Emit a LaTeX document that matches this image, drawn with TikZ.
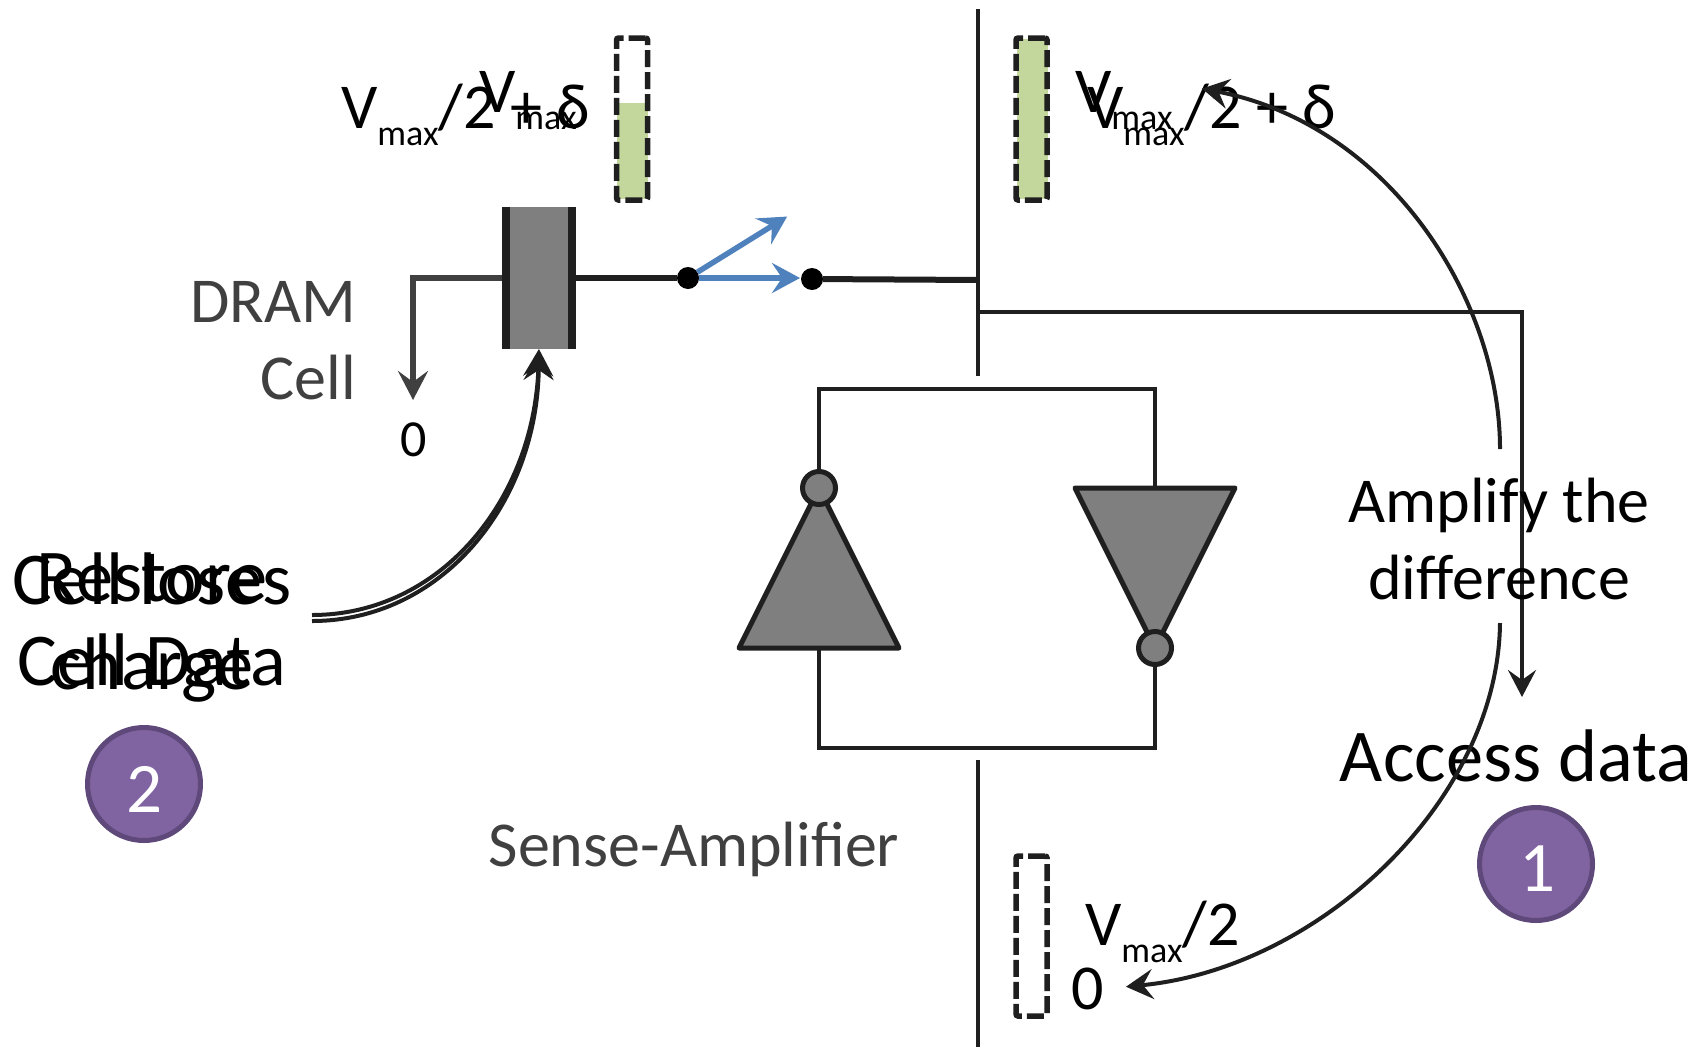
\documentclass[tikz,border=0pt]{standalone}
\usepackage{fontspec}
\setmainfont{Carlito}
\usetikzlibrary{arrows.meta}
\definecolor{ink}{HTML}{1F1F1F}
\definecolor{soft}{HTML}{404040}
\definecolor{bluearrow}{HTML}{4F81BD}
\definecolor{greenfill}{HTML}{C3D69B}
\definecolor{greybody}{HTML}{7F7F7F}
\definecolor{purplefill}{HTML}{8064A2}
\definecolor{purpleline}{HTML}{5F497A}
\newcommand{\bigsize}{\fontsize{64}{70}\selectfont}
\newcommand{\Vsub}{V\raisebox{-17pt}{\fontsize{36}{40}\selectfont max}}
\tikzset{
  x=1pt,y=-1pt,
  every node/.style={inner sep=0pt,outer sep=0pt},
  wire/.style={ink,line width=4pt},
  thickwire/.style={ink,line width=6pt},
  curvearrow/.style={ink,line width=4pt,-{Stealth[length=27pt,width=30pt,inset=10pt,sep=3pt]}},
  lab/.style={font=\bigsize,text=black,anchor=base},
  labl/.style={font=\bigsize,text=black,anchor=base west},
  graylab/.style={font=\bigsize,text=soft,anchor=base east},
  levelbox/.style={draw=ink,line width=5.5pt,dash pattern=on 17pt off 5pt,rounded corners=2pt,minimum width=31pt},
  stepcircle/.style={circle,draw=purpleline,line width=5pt,fill=purplefill,minimum size=113pt},
  stepdigit/.style={text=white,font=\fontsize{71}{75}\selectfont},
  bubble/.style={circle,draw=ink,line width=5pt,fill=greybody,minimum size=33pt},
  dot/.style={circle,fill=black,minimum size=22pt},
  inv/.style={draw=ink,fill=greybody,line width=5pt,line join=round},
  bluearr/.style={bluearrow,line width=5.5pt,-{Stealth[length=28pt,width=30pt,inset=10pt,sep=1pt]}},
}
\begin{document}
\begin{tikzpicture}
\useasboundingbox (0,0) rectangle (1707,1047);
% bit line
\coordinate (blTop) at (978,9);
\coordinate (blA) at (978,376);
\coordinate (blB) at (978,760);
\coordinate (blEnd) at (978,1047);
\coordinate (blJoin) at (978,280);
\coordinate (blTap) at (978,312);
\coordinate (tapCorner) at (1522,312);
\coordinate (tapEnd) at (1522,699);
\draw[wire] (blTop) -- (blA);
\draw[wire] (blB) -- (blEnd);
% capacitor
\node[fill=greybody,minimum width=72pt,minimum height=142pt] (cap) at (539,278) {};
\node[fill=ink,minimum width=8pt,minimum height=142pt] (capL) at (506,278) {};
\node[fill=ink,minimum width=8pt,minimum height=142pt] (capR) at (572,278) {};
% switch
\node[dot] (d1) at (688,278) {};
\node[dot] (d2) at (812,279) {};
\draw[thickwire] (capR.east |- d1) -- (d1);
\draw[thickwire] (d2) -- (blJoin);
\coordinate (swUp) at (788,216);
\coordinate (swRight) at (801,278);
\draw[bluearr] (d1) -- (swUp);
\draw[bluearr] (d1.east) -- (swRight);
% ground
\coordinate (gc) at (413,278);
\coordinate (gEnd) at (413,402);
\draw[soft,line width=6pt,-{Stealth[length=29pt,width=30pt,inset=11pt,sep=2pt]}] (capL.west |- gc) -- (gc) -- (gEnd);
\node[font=\fontsize{52}{56}\selectfont,anchor=base] (zeroA) at (414,456) {0};
% tap arrow
\draw[ink,line width=4pt,-{Stealth[length=27pt,width=28pt,inset=10pt,sep=2pt]}] (blTap) -- (tapCorner) -- (tapEnd);
% level boxes
\node[fill=greenfill,minimum width=31pt,minimum height=96pt] (gL) at (632,151) {};
\node[levelbox,minimum height=162pt] (boxL) at (632,119) {};
\node[fill=greenfill,minimum width=31pt,minimum height=160pt] (gR) at (1032,119) {};
\node[levelbox,minimum height=162pt] (boxR) at (1031.5,119) {};
\node[levelbox,minimum height=160pt] (boxB) at (1031.5,936) {};
% labels near boxes
\node[labl] (l1) at (341,128) {\Vsub/2 + δ};
\node[labl] (l2) at (479,112) {\Vsub};
\node[labl] (l3) at (1075,112) {\Vsub};
\node[labl] (l4) at (1087,128) {\Vsub/2 + δ};
\node[labl] (l5) at (1085,945) {\Vsub/2};
\node[lab] (zeroB) at (1088,1009) {0};
\node[graylab] (dram) at (356,322) {DRAM};
\node[graylab] (cell) at (356,399) {Cell};
\node[text=soft,font=\bigsize,anchor=base] (sa) at (694,866) {Sense-Amplifier};
% sense amplifier
\coordinate (tl) at (819,389);
\coordinate (tr) at (1155,389);
\coordinate (bl) at (819,748);
\coordinate (br) at (1155,748);
\draw[wire] (819,488) -- (tl) -- (tr) -- (1155,488);
\draw[wire] (819,648) -- (bl) -- (br) -- (1155,648);
\draw[inv] (819,488) -- (739,648) -- (899,648) -- cycle;
\draw[inv] (1155,648) -- (1075,488) -- (1235,488) -- cycle;
\node[bubble] (bubL) at (819,488) {};
\node[bubble] (bubR) at (1155,648) {};
% step labels
\node[font=\fontsize{64}{77}\selectfont,align=center] (amp) at (1499,539) {Amplify the\\difference};
\node[font=\fontsize{74.5}{80}\selectfont,anchor=base] (acc) at (1516,781) {Access data};
\node[stepcircle] (s1) at (1536,864) {};
\node[stepdigit] (n1) at (1537,869) {1};
\node[stepcircle] (s2) at (144,784) {};
\node[stepdigit] (n2) at (144,789) {2};
\node[font=\fontsize{74.5}{85}\selectfont,align=center] (loses) at (152,628) {Cell loses\\charge};
\node[font=\fontsize{74.5}{84}\selectfont,align=center] (rest) at (152,620) {Restore\\Cell Data};
% curved arrows
\coordinate (c1s) at (1500,449);
\coordinate (c1e) at (1199,88);
\coordinate (c2s) at (1500,623);
\coordinate (c2e) at (1123,987);
\coordinate (c3s) at (312,615);
\coordinate (c4s) at (312,621);
\coordinate (c3e) at (539,346);
\coordinate (c4e) at (539,350);
\draw[curvearrow] (c1s) .. controls (1500,300) and (1390,125) .. (c1e);
\draw[curvearrow] (c2s) .. controls (1498,800) and (1320,968) .. (c2e);
\draw[curvearrow] (c3s) .. controls (440,615) and (535,500) .. (c3e);
\draw[curvearrow] (c4s) .. controls (442,621) and (537,503) .. (c4e);
\end{tikzpicture}
\end{document}
